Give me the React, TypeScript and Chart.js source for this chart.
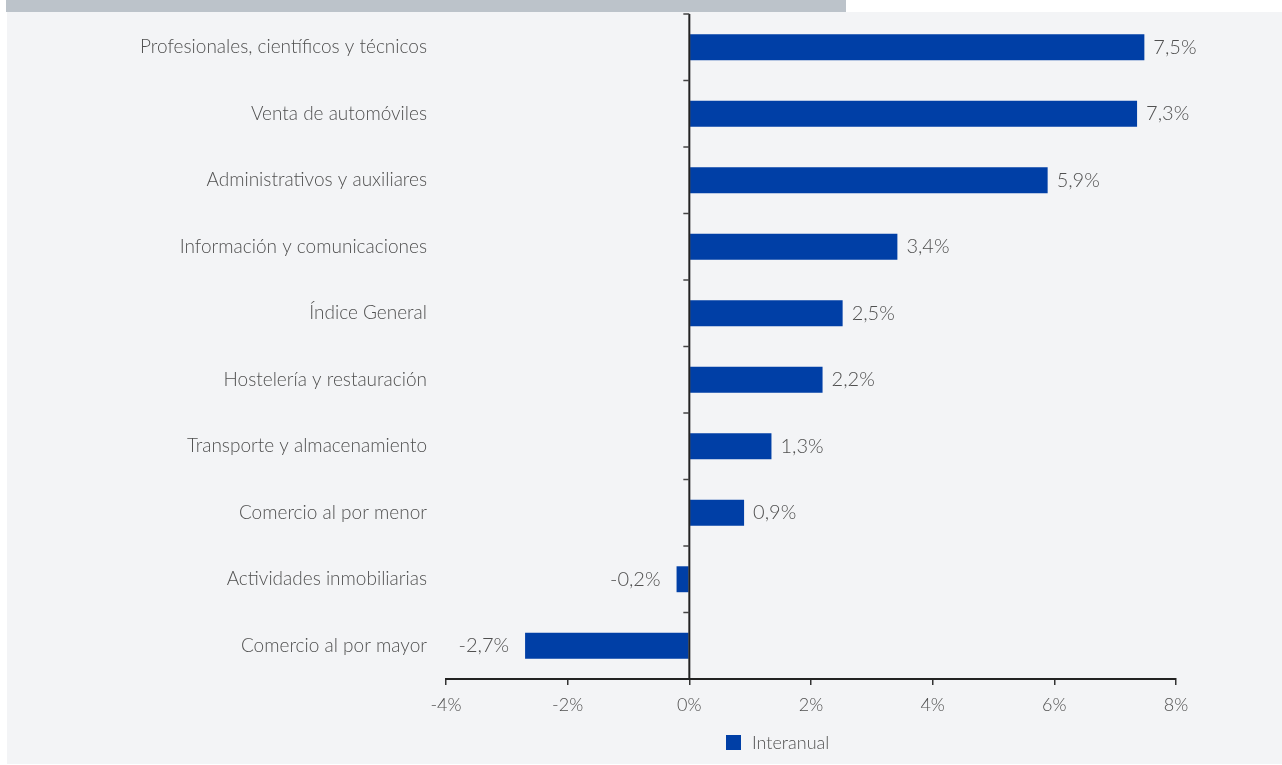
import React, { useEffect, useRef } from "react";
import { Chart, registerables } from "chart.js";

Chart.register(...registerables);

const categories = [
  "Profesionales, científicos y técnicos",
  "Venta de automóviles",
  "Administrativos y auxiliares",
  "Información y comunicaciones",
  "Índice General",
  "Hostelería y restauración",
  "Transporte y almacenamiento",
  "Comercio al por menor",
  "Actividades inmobiliarias",
  "Comercio al por mayor",
];

const interanual = [7.48, 7.36, 5.89, 3.42, 2.52, 2.19, 1.35, 0.9, -0.21, -2.7];
const valueLabels = ["7,5%", "7,3%", "5,9%", "3,4%", "2,5%", "2,2%", "1,3%", "0,9%", "-0,2%", "-2,7%"];
const xTicks = [-4, -2, 0, 2, 4, 6, 8];
const seriesName = "Interanual";

const BAR = "#003fa6";
const TEXT = "#505050";
const AXIS = "#222222";
const FONT = "Lato, 'Open Sans', sans-serif";

export default function App() {
  const ref = useRef<HTMLCanvasElement | null>(null);

  useEffect(() => {
    document.body.style.margin = "0";
    const canvas = ref.current;
    if (!canvas) return;

    const zeroAxis = {
      id: "zeroAxis",
      afterDatasetsDraw(chart: any) {
        const { ctx, chartArea, scales } = chart;
        const x0 = scales.x.getPixelForValue(0);
        ctx.save();
        ctx.strokeStyle = AXIS;
        ctx.lineWidth = 2;
        ctx.beginPath();
        ctx.moveTo(x0, chartArea.top);
        ctx.lineTo(x0, chartArea.bottom);
        ctx.stroke();
        ctx.lineWidth = 1.5;
        ctx.strokeStyle = "#444";
        const n = categories.length;
        const step = (chartArea.bottom - chartArea.top) / n;
        for (let i = 0; i < n; i++) {
          const yy = chartArea.top + i * step;
          ctx.beginPath();
          ctx.moveTo(x0 - 6, yy);
          ctx.lineTo(x0, yy);
          ctx.stroke();
        }
        ctx.restore();
      },
    };

    const dataLabels = {
      id: "dataLabels",
      afterDatasetsDraw(chart: any) {
        const { ctx } = chart;
        const meta = chart.getDatasetMeta(0);
        ctx.save();
        ctx.font = `300 20px ${FONT}`;
        ctx.fillStyle = TEXT;
        ctx.textBaseline = "middle";
        meta.data.forEach((bar: any, i: number) => {
          const v = interanual[i];
          if (v >= 0) {
            ctx.textAlign = "left";
            ctx.fillText(valueLabels[i], bar.x + 9, bar.y);
          } else {
            ctx.textAlign = "right";
            ctx.fillText(valueLabels[i], bar.x - 16, bar.y);
          }
        });
        ctx.restore();
      },
    };

    const legendPlugin = {
      id: "customLegend",
      afterDraw(chart: any) {
        const { ctx, chartArea } = chart;
        const lx = chartArea.left + 280;
        const ly = chartArea.bottom + 56;
        ctx.save();
        ctx.fillStyle = BAR;
        ctx.fillRect(lx, ly, 15, 15);
        ctx.font = `300 18px ${FONT}`;
        ctx.fillStyle = TEXT;
        ctx.textAlign = "left";
        ctx.textBaseline = "middle";
        ctx.fillText(seriesName, lx + 26, ly + 8);
        ctx.restore();
      },
    };

    const chart = new Chart(canvas, {
      type: "bar",
      data: {
        labels: categories,
        datasets: [
          {
            label: seriesName,
            data: interanual,
            backgroundColor: BAR,
            borderWidth: 0,
            barPercentage: 0.39,
            categoryPercentage: 1,
          },
        ],
      },
      options: {
        indexAxis: "y",
        responsive: false,
        animation: false,
        devicePixelRatio: 1,
        layout: { padding: { top: 2, right: 106, bottom: 0, left: 0 } },
        plugins: {
          legend: { display: false },
          tooltip: { enabled: false },
        },
        scales: {
          x: {
            type: "linear",
            min: -4,
            max: 8,
            afterBuildTicks(scale: any) {
              scale.ticks = xTicks.map((v) => ({ value: v }));
            },
            afterFit(scale: any) {
              scale.height = 85;
            },
            border: { display: true, color: AXIS, width: 2 },
            grid: {
              display: true,
              drawOnChartArea: false,
              drawTicks: true,
              tickLength: 6,
              color: "#333",
              lineWidth: 1.5,
            },
            ticks: {
              color: TEXT,
              font: { family: FONT, size: 18, weight: "300" as any },
              padding: 9,
              callback: (v: any) => `${v}%`,
            },
          },
          y: {
            type: "category",
            afterFit(scale: any) {
              scale.width = 439;
              scale.paddingTop = 0;
              scale.paddingBottom = 0;
            },
            border: { display: false },
            grid: { display: false, drawTicks: false },
            ticks: {
              color: TEXT,
              font: { family: FONT, size: 19, weight: "300" as any },
              padding: 19,
            },
          },
        },
      },
      plugins: [zeroAxis, dataLabels, legendPlugin],
    });

    return () => chart.destroy();
  }, []);

  return (
    <div style={{ position: "relative", width: 1282, height: 765, background: "#ffffff" }}>
      <div
        style={{
          position: "absolute",
          left: 6,
          top: 0,
          width: 840,
          height: 12,
          background: "#bcc3ca",
        }}
      />
      <div
        style={{
          position: "absolute",
          left: 7,
          top: 12,
          width: 1275,
          height: 752,
          background: "#f3f4f6",
        }}
      >
        <canvas ref={ref} width={1275} height={752} style={{ display: "block" }} />
      </div>
    </div>
  );
}
